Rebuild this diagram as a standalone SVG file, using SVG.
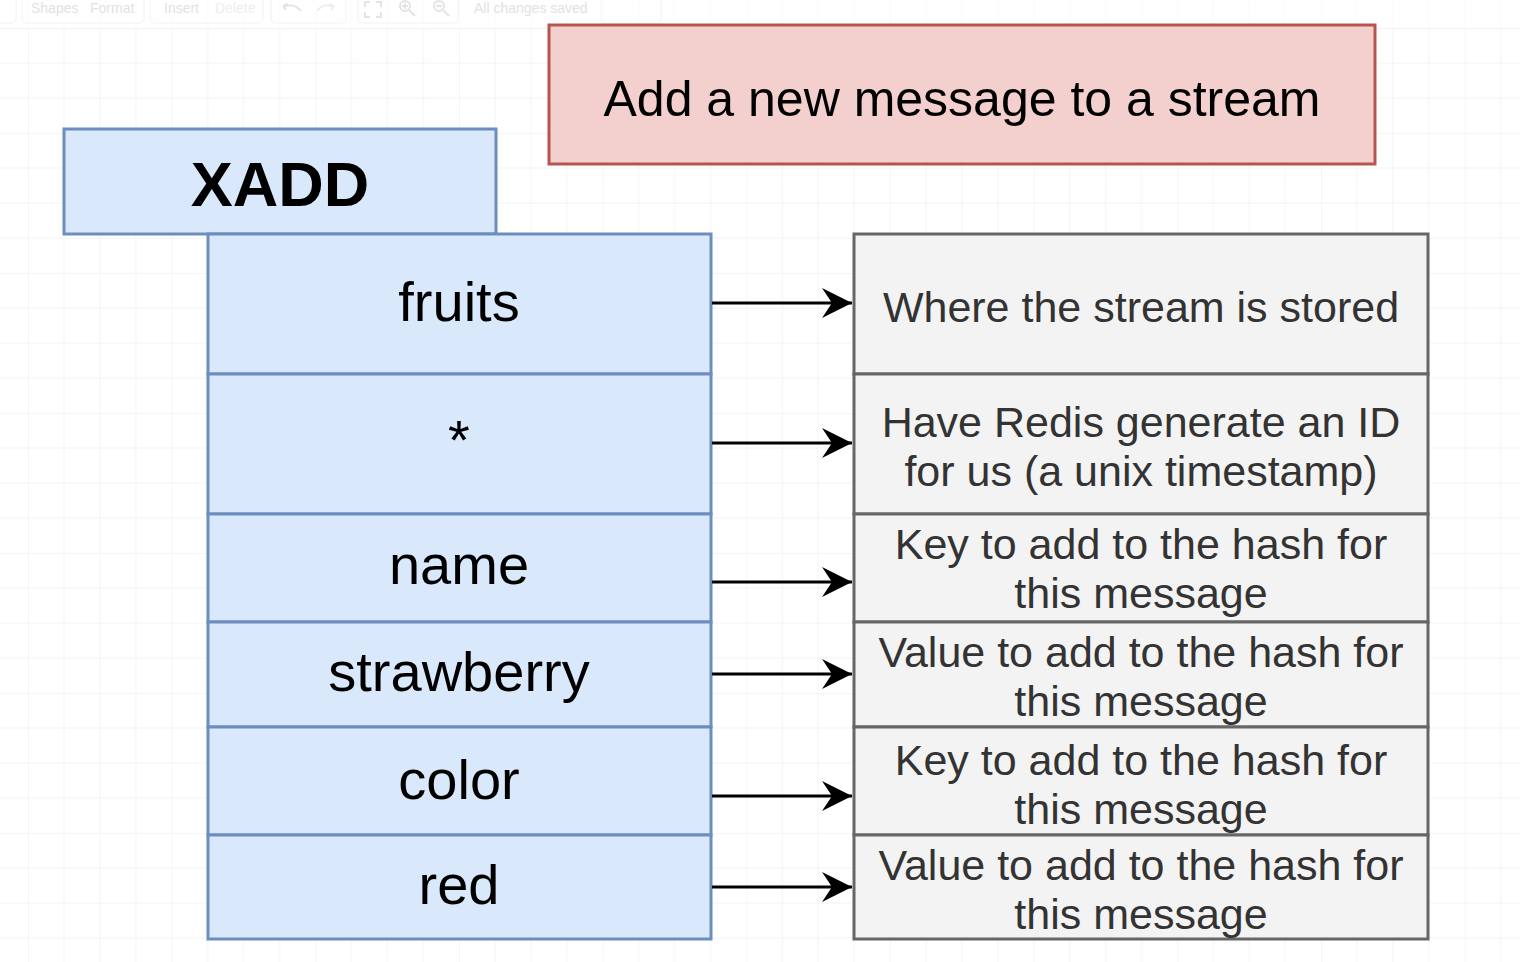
<svg xmlns="http://www.w3.org/2000/svg" width="1520" height="962" viewBox="0 0 1520 962">
  <style>
    .blue { fill: #dae8fc; stroke: #6c8ebf; stroke-width: 3; }
    .grey { fill: #f3f3f3; stroke: #666666; stroke-width: 3; }
    .red { fill: #f3cfcd; stroke: #b85450; stroke-width: 3; }
    .ltext { font-family: "Liberation Sans", Arial, sans-serif; font-size: 56px; fill: #000; text-anchor: middle; }
    .rtext { font-family: "Liberation Sans", Arial, sans-serif; font-size: 43px; fill: #333333; text-anchor: middle; }
    .tbtext { font-family: "Liberation Sans", Arial, sans-serif; font-size: 14px; fill: #e2e2e2; }
    .tbbox { fill: none; stroke: #f2f2f2; stroke-width: 1; }
    .tbicon { fill: none; stroke: #e4e4e4; stroke-width: 2; }
    .conn { stroke: #000; stroke-width: 3; fill: none; marker-end: url(#arrow); }
  </style>
  <defs>
    <pattern id="grid" patternUnits="userSpaceOnUse" x="28" y="-7" width="143.68" height="140">
      <path d="M35.92 0V140M71.84 0V140M107.76 0V140M0 35H143.68M0 70H143.68M0 105H143.68" stroke="#f4f4f4" stroke-width="1" fill="none"/>
      <path d="M0 0V140M0 0H143.68" stroke="#ececec" stroke-width="1" fill="none"/>
    </pattern>
    <marker id="arrow" markerUnits="userSpaceOnUse" viewBox="0 0 30 30" refX="30" refY="15" markerWidth="30" markerHeight="30" orient="auto">
      <path d="M0 0L30 15L0 30L10 15Z" fill="#000"/>
    </marker>
  </defs>

  <rect x="0" y="0" width="1520" height="962" fill="#ffffff"/>
  <rect x="0" y="0" width="1520" height="962" fill="url(#grid)"/>

  <!-- faint toolbar -->
  <g id="toolbar">
    <rect x="0" y="-6" width="1520" height="34" fill="#ffffff" opacity="0.6"/>
    <line x1="0" y1="28.5" x2="1520" y2="28.5" stroke="#f2f2f2" stroke-width="1"/>
    <rect class="tbbox" x="-10" y="-6" width="26" height="29" rx="4"/>
    <rect class="tbbox" x="22" y="-6" width="122" height="29" rx="4"/>
    <rect class="tbbox" x="150" y="-6" width="113" height="29" rx="4"/>
    <rect class="tbbox" x="271" y="-6" width="75" height="29" rx="4"/>
    <rect class="tbbox" x="358" y="-6" width="100" height="29" rx="4"/>
    <rect class="tbbox" x="601" y="-6" width="60" height="29" rx="4"/>
    <text class="tbtext" x="31" y="13">Shapes</text>
    <text class="tbtext" x="90" y="13">Format</text>
    <text class="tbtext" x="164" y="13">Insert</text>
    <text class="tbtext" x="215" y="13" style="fill:#eeeeee">Delete</text>
    <path class="tbicon" d="M283 6 L286 10 M283 6 L288 4 M284 7 Q293 2 301 11"/>
    <path class="tbicon" d="M334 6 L331 10 M334 6 L329 4 M333 7 Q324 2 317 11" style="stroke:#eeeeee"/>
    <path class="tbicon" d="M365 7V2H370M376 2H381V7M381 12V17H376M370 17H365V12"/>
    <circle class="tbicon" cx="405" cy="6" r="5"/>
    <path class="tbicon" d="M409 10L415 16M402 6H408M405 3V9"/>
    <circle class="tbicon" cx="439" cy="6" r="5"/>
    <path class="tbicon" d="M443 10L449 16M436 6H442"/>
    <text class="tbtext" x="474" y="13">All changes saved</text>
  </g>

  <g id="title">
    <rect class="red" x="549" y="25" width="826" height="139"/>
    <text x="962" y="116" font-family="Liberation Sans, Arial, sans-serif" font-size="50" fill="#000" text-anchor="middle">Add a new message to a stream</text>
  </g>

  <g id="xadd">
    <rect class="blue" x="64" y="129" width="432" height="105"/>
    <text x="280" y="206" font-family="Liberation Sans, Arial, sans-serif" font-size="63" font-weight="bold" fill="#000" text-anchor="middle">XADD</text>
  </g>

  <g id="arg-fruits">
    <rect class="blue" x="208" y="234" width="503" height="140"/>
    <text class="ltext" x="459" y="321">fruits</text>
  </g>
  <g id="arg-star">
    <rect class="blue" x="208" y="374" width="503" height="140"/>
    <text class="ltext" x="459" y="459">*</text>
  </g>
  <g id="arg-name">
    <rect class="blue" x="208" y="514" width="503" height="108"/>
    <text class="ltext" x="459" y="584">name</text>
  </g>
  <g id="arg-strawberry">
    <rect class="blue" x="208" y="622" width="503" height="105"/>
    <text class="ltext" x="459" y="691">strawberry</text>
  </g>
  <g id="arg-color">
    <rect class="blue" x="208" y="727" width="503" height="108"/>
    <text class="ltext" x="459" y="799">color</text>
  </g>
  <g id="arg-red">
    <rect class="blue" x="208" y="835" width="503" height="104"/>
    <text class="ltext" x="459" y="904">red</text>
  </g>

  <g id="desc-stream">
    <rect class="grey" x="854" y="234" width="574" height="140"/>
    <text class="rtext" x="1141" y="322">Where the stream is stored</text>
  </g>
  <g id="desc-id">
    <rect class="grey" x="854" y="374" width="574" height="140"/>
    <text class="rtext" x="1141" y="437">Have Redis generate an ID</text>
    <text class="rtext" x="1141" y="486">for us (a unix timestamp)</text>
  </g>
  <g id="desc-key1">
    <rect class="grey" x="854" y="514" width="574" height="108"/>
    <text class="rtext" x="1141" y="559">Key to add to the hash for</text>
    <text class="rtext" x="1141" y="608">this message</text>
  </g>
  <g id="desc-value1">
    <rect class="grey" x="854" y="622" width="574" height="105"/>
    <text class="rtext" x="1141" y="667">Value to add to the hash for</text>
    <text class="rtext" x="1141" y="716">this message</text>
  </g>
  <g id="desc-key2">
    <rect class="grey" x="854" y="727" width="574" height="108"/>
    <text class="rtext" x="1141" y="775">Key to add to the hash for</text>
    <text class="rtext" x="1141" y="824">this message</text>
  </g>
  <g id="desc-value2">
    <rect class="grey" x="854" y="835" width="574" height="104"/>
    <text class="rtext" x="1141" y="880">Value to add to the hash for</text>
    <text class="rtext" x="1141" y="929">this message</text>
  </g>

  <g id="connectors">
    <line class="conn" x1="712" y1="303" x2="852" y2="303"/>
    <line class="conn" x1="712" y1="443" x2="852" y2="443"/>
    <line class="conn" x1="712" y1="582" x2="852" y2="582"/>
    <line class="conn" x1="712" y1="674" x2="852" y2="674"/>
    <line class="conn" x1="712" y1="796" x2="852" y2="796"/>
    <line class="conn" x1="712" y1="887" x2="852" y2="887"/>
  </g>
</svg>
